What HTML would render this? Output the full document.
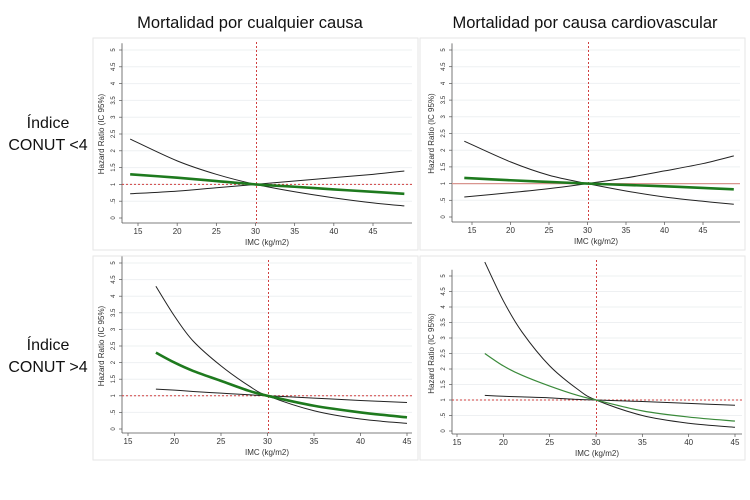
<!DOCTYPE html>
<html><head><meta charset="utf-8"><style>
body{margin:0;background:#fff;font-family:"Liberation Sans",sans-serif;}
svg{display:block}
</style></head><body>
<svg id="fig" width="750" height="500">
<text x="250" y="28" text-anchor="middle" font-size="16.5" fill="#111">Mortalidad por cualquier causa</text>
<text x="585" y="28" text-anchor="middle" font-size="16.5" fill="#111">Mortalidad por causa cardiovascular</text>
<text x="48" y="128" text-anchor="middle" font-size="16" fill="#111"><tspan x="48">Índice</tspan><tspan x="48" dy="22">CONUT &lt;4</tspan></text>
<text x="48" y="350" text-anchor="middle" font-size="16" fill="#111"><tspan x="48">Índice</tspan><tspan x="48" dy="22">CONUT &gt;4</tspan></text>
</svg>
<script>
// Data arrays
const p1X=[14,20,25,30,35,40,45,49];
const p1Upper=[2.35,1.7,1.3,1,0.78,0.6,0.45,0.36];
const p1Lower=[0.72,0.8,0.9,1,1.1,1.2,1.3,1.4];
const p1HR=[1.3,1.2,1.1,1,0.93,0.85,0.78,0.72];
const p2X=[14,20,25,30,35,40,45,49];
const p2Upper=[2.27,1.65,1.25,1,0.78,0.6,0.47,0.38];
const p2Lower=[0.6,0.73,0.85,1,1.17,1.38,1.6,1.83];
const p2HR=[1.17,1.1,1.05,1,0.96,0.92,0.87,0.83];
const p3X=[18,20,22,25,28,30,35,40,45];
const p3Upper=[4.3,3.4,2.65,1.9,1.3,1,0.55,0.3,0.17];
const p3HR=[2.3,2.0,1.75,1.45,1.15,1,0.7,0.5,0.35];
const p3Lower=[1.2,1.17,1.13,1.08,1.03,1,0.93,0.86,0.8];
const p4X=[18,20,22,25,28,30,35,40,45];
const p4Upper=[5.45,4.2,3.2,2.1,1.35,1,0.5,0.25,0.12];
const p4HR=[2.5,2.1,1.8,1.45,1.15,1,0.65,0.45,0.32];
const p4Lower=[1.15,1.12,1.1,1.07,1.02,1,0.95,0.89,0.83];
const xTicks=[15,20,25,30,35,40,45];
const yTicks=[0,0.5,1,1.5,2,2.5,3,3.5,4,4.5,5];
const yTickLabels=["0",".5","1","1.5","2","2.5","3","3.5","4","4.5","5"];

const NS="http://www.w3.org/2000/svg";
const fig=document.getElementById('fig');
function mk(tag,attrs,parent){const e=document.createElementNS(NS,tag);for(const k in attrs)e.setAttribute(k,attrs[k]);(parent||fig).appendChild(e);return e;}

function panel(cfg){
  const g=mk('g',{});
  
  
  const sx=v=>cfg.x15+(v-15)*(cfg.x45-cfg.x15)/30;
  const sy=v=>cfg.y0+(v)*(cfg.y5-cfg.y0)/5;
  const fr=mk('rect',{x:cfg.fx,y:cfg.fy,width:cfg.fw,height:cfg.fh,fill:'#fff',stroke:'#e6e6e6','stroke-width':1},g);
  
  
  yTicks.forEach((t,i)=>{
    if(t>0){const gl=mk('line',{x1:cfg.ax,x2:cfg.right,y1:sy(t),y2:sy(t),stroke:'#eef0f2','stroke-width':1},g);
    
    }
    mk('line',{x1:cfg.ax-3,x2:cfg.ax,y1:sy(t),y2:sy(t),stroke:'#555','stroke-width':0.7},g);
    const tx=mk('text',{x:cfg.ax-7,y:sy(t),'font-size':6,fill:'#333','text-anchor':'middle',transform:`rotate(-90 ${cfg.ax-7} ${sy(t)})`},g);
    tx.textContent=yTickLabels[i];
    
    
  });
  const ya=mk('line',{x1:cfg.ax,x2:cfg.ax,y1:sy(5.2),y2:cfg.axY,stroke:'#555','stroke-width':0.8},g);
  
  
  const xa=mk('line',{x1:cfg.ax,x2:cfg.right,y1:cfg.axY,y2:cfg.axY,stroke:'#555','stroke-width':0.8},g);
  
  
  xTicks.forEach(t=>{
    mk('line',{x1:sx(t),x2:sx(t),y1:cfg.axY,y2:cfg.axY+3,stroke:'#555','stroke-width':0.7},g);
    const tx=mk('text',{x:sx(t),y:cfg.axY+11,'font-size':8,fill:'#333','text-anchor':'middle'},g);
    tx.textContent=t;
    
    
  });
  const xl=mk('text',{x:(cfg.ax+cfg.right)/2,y:cfg.axY+22,'font-size':8,fill:'#333','text-anchor':'middle'},g);
  xl.textContent='IMC (kg/m2)';
  
  
  const yx=cfg.ax-18, yy=(sy(0)+sy(5))/2;
  const yl=mk('text',{x:yx,y:yy,'font-size':8,fill:'#333','text-anchor':'middle',transform:`rotate(-90 ${yx} ${yy})`},g);
  yl.textContent='Hazard Ratio  (IC 95%)';
  
  
  const ref=mk('line',{x1:cfg.ax,x2:cfg.right,y1:sy(1),y2:sy(1),stroke:cfg.solidRef?'#d9958f':'#d04040','stroke-width':cfg.solidRef?1.2:1,'stroke-dasharray':cfg.solidRef?'none':'2,2'},g);
  
  
  const vx=Math.round(sx(30))+0.5;
  const vref=mk('line',{x1:vx,x2:vx,y1:cfg.fy+4,y2:cfg.axY,stroke:'#d04040','stroke-width':1,'stroke-dasharray':'2,2'},g);
  
  
  function curve(xs,ys,col,w,name){
    const pts=xs.map((x,i)=>[sx(x),sy(ys[i])]);
    let d=`M${pts[0][0]},${pts[0][1]}`;
    for(let i=0;i<pts.length-1;i++){
      const p0=pts[i-1]||pts[i],p1=pts[i],p2=pts[i+1],p3=pts[i+2]||p2;
      const c1=[p1[0]+(p2[0]-p0[0])/6,p1[1]+(p2[1]-p0[1])/6];
      const c2=[p2[0]-(p3[0]-p1[0])/6,p2[1]-(p3[1]-p1[1])/6];
      d+=` C${c1[0]},${c1[1]} ${c2[0]},${c2[1]} ${p2[0]},${p2[1]}`;
    }
    const p=mk('path',{d:d,fill:'none',stroke:col,'stroke-width':w},g);
    
    
  }
  curve(cfg.xs,cfg.up,'#222',1,'ci-upper-line');
  curve(cfg.xs,cfg.lo,'#222',1,'ci-lower-line');
  curve(cfg.xs,cfg.hr,cfg.hrCol,cfg.hrW,'hazard-ratio-line');
}
panel({name:'panel-all-cause-conut-lt4',fx:93,fy:38,fw:325,fh:212,ax:122,right:412,axY:223,x15:138,x45:373,y0:218,y5:50,xs:p1X,up:p1Upper,lo:p1Lower,hr:p1HR,hrCol:'#1e7a1e',hrW:2.6});
panel({name:'panel-cardio-conut-lt4',fx:420,fy:38,fw:325,fh:212,ax:452,right:740,axY:222,x15:472,x45:703,y0:217,y5:50,xs:p2X,up:p2Upper,lo:p2Lower,hr:p2HR,hrCol:'#1e7a1e',hrW:2.6,solidRef:true});
panel({name:'panel-all-cause-conut-gt4',fx:93,fy:256,fw:325,fh:204,ax:122,right:412,axY:433,x15:128,x45:407,y0:429,y5:263,xs:p3X,up:p3Upper,lo:p3Lower,hr:p3HR,hrCol:'#1e7a1e',hrW:2.6});
panel({name:'panel-cardio-conut-gt4',fx:420,fy:256,fw:325,fh:204,ax:452,right:742,axY:434,x15:457,x45:735,y0:431,y5:276,xs:p4X,up:p4Upper,lo:p4Lower,hr:p4HR,hrCol:'#3a8a3a',hrW:1.2});
</script>
</body></html>
